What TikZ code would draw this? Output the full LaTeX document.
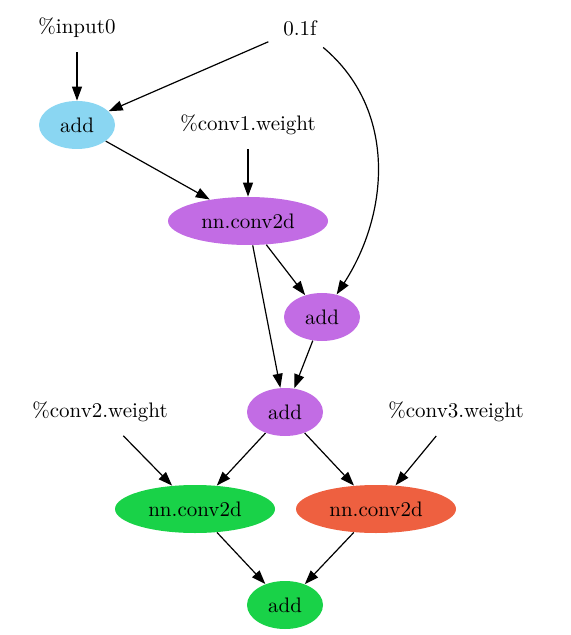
\documentclass[tikz,border=0pt]{standalone}
\usepackage{xcolor}
\usepackage{tikz}
\usetikzlibrary{shapes.geometric, arrows.meta}

\definecolor{addblue}{RGB}{138,214,242}
\definecolor{grppurple}{RGB}{194,108,228}
\definecolor{grpgreen}{RGB}{25,210,72}
\definecolor{grporange}{RGB}{238,96,64}

\begin{document}
\begin{tikzpicture}[
    x=0.5pt, y=-0.5pt,
    every node/.style={ellipse, minimum width=38pt, minimum height=24pt, inner sep=1pt, font=\fontsize{10.5}{12}\selectfont},
    param/.style={inner xsep=4pt},
    conv/.style={minimum width=80pt},
    flow/.style={draw, -{Triangle[length=7pt, width=5pt]}, line width=0.6pt}
]
\useasboundingbox (0,0) rectangle (570,635);

\node[param] (in0) at (77,28) {\%input0};
\node[param] (cst) at (300,28) {0.1f};
\node[fill=addblue] (add1) at (77,125) {add};
\node[param] (w1) at (248,125) {\%conv1.weight};
\node[conv, fill=grppurple] (conv1) at (248,221) {nn.conv2d};
\node[fill=grppurple] (add2) at (322,317) {add};
\node[fill=grppurple] (add3) at (285,412) {add};
\node[param] (w2) at (100,412) {\%conv2.weight};
\node[param] (w3) at (456,412) {\%conv3.weight};
\node[conv, fill=grpgreen] (conv2) at (195,509) {nn.conv2d};
\node[conv, fill=grporange] (conv3) at (376,509) {nn.conv2d};
\node[fill=grpgreen] (add4) at (285,605) {add};

\draw[flow] (in0) -- (add1);
\draw[flow] (cst) -- (add1);
\draw[flow] (cst) to[out=-40, in=57] (add2);
\draw[flow] (add1) -- (conv1);
\draw[flow] (w1) -- (conv1);
\draw[flow] (conv1) -- (add2);
\draw[flow] (conv1) -- (add3);
\draw[flow] (add2) -- (add3);
\draw[flow] (add3) -- (conv2);
\draw[flow] (add3) -- (conv3);
\draw[flow] (w2) -- (conv2);
\draw[flow] (w3) -- (conv3);
\draw[flow] (conv2) -- (add4);
\draw[flow] (conv3) -- (add4);
\end{tikzpicture}
\end{document}
